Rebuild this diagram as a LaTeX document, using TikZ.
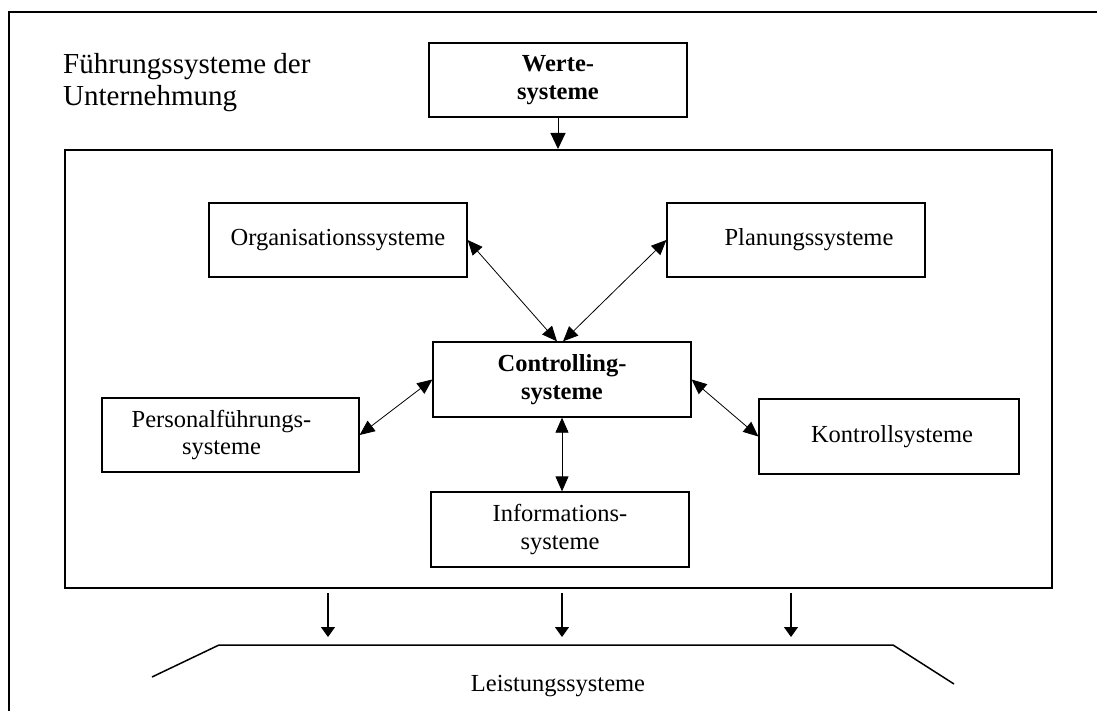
\documentclass[tikz,border=0pt]{standalone}
\usepackage{fontspec}
\setmainfont{Liberation Serif}
\usetikzlibrary{arrows.meta,calc}

\begin{document}
\begin{tikzpicture}[x=1pt,y=-1pt,
  sysbox/.style={draw, line width=1.3pt, inner sep=0pt, align=center,
    minimum width=258pt, minimum height=74pt,
    font=\fontsize{24.5}{27.5}\selectfont},
  boldbox/.style={sysbox, font=\fontsize{24.5}{27.5}\selectfont\bfseries},
  twoway/.style={line width=0.8pt,
    {Triangle[length=15pt,width=13pt]}-{Triangle[length=15pt,width=13pt]}},
  oneway/.style={line width=1.3pt, -{Triangle[length=10pt,width=14pt]}},
  feed/.style={line width=1pt, -{Triangle[length=16pt,width=15pt]}},
  frame/.style={line width=2pt}]
\useasboundingbox (0,0) rectangle (1097,711);

% outer frame (continues beyond the page on the right and bottom)
\draw[frame] (9,711) -- (9,12) -- (1097,12);

% heading
\node[anchor=north west, inner sep=0pt, align=left,
      font=\fontsize{29}{32}\selectfont] (title) at (63,53)
  {Führungssysteme der\\Unternehmung};

% value systems on top
\node[boldbox] (werte) at (558,80) {Werte-\\systeme};

% inner frame of the management systems
\node[draw, frame, inner sep=0pt, minimum width=987pt, minimum height=438pt]
  (inner) at (558.5,369) {};

\draw[feed] (werte.south) -- (werte.south |- inner.north);

% subsystems
\node[sysbox] (org)  at (338,240)   {Organisationssysteme};
\node[sysbox] (plan) at (796,240)   {\hspace*{26pt}Planungssysteme};
\node[boldbox, minimum height=75pt] (ctrl) at (562,379.5) {Controlling-\\systeme};
\node[sysbox, minimum width=257pt] (pers) at (230.5,435)
  {Personalführungs-\hspace*{18pt}\\systeme\hspace*{18pt}};
\node[sysbox, minimum width=260pt, minimum height=75pt] (kont) at (889,436.5)
  {\hspace*{6pt}Kontrollsysteme};
\node[sysbox, minimum height=75pt] (info) at (560,529.5) {Informations-\\systeme};

% links to the controlling systems
\draw[twoway] (org.east)  -- ($(ctrl.north)+(-5,0)$);
\draw[twoway] (plan.west) -- ($(ctrl.north)+(1,0)$);
\draw[twoway] (pers.east) -- (ctrl.west);
\draw[twoway] (kont.west) -- (ctrl.east);
\draw[twoway] (ctrl.south) -- (ctrl.south |- info.north);

% performance systems
\coordinate (bl) at (152,677);
\coordinate (tl) at (219,645);
\coordinate (tr) at (893,645);
\coordinate (br) at (954,684);
\draw[line width=1.5pt] (bl) -- (tl) -- (tr) -- (br);
\node[anchor=base, inner sep=0pt, font=\fontsize{24.5}{27}\selectfont]
  (leist) at (558,691) {Leistungssysteme};

\coordinate (a1) at (328,637);
\coordinate (a2) at (562,637);
\coordinate (a3) at (791,637);
\foreach \a in {a1,a2,a3}
  \draw[oneway, shorten <=4pt] (\a |- inner.south) -- (\a);
\end{tikzpicture}
\end{document}
